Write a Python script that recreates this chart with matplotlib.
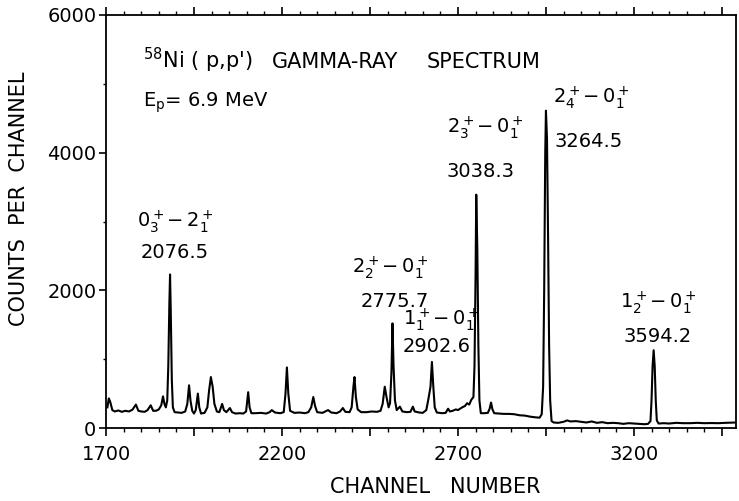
import numpy as np
import matplotlib
matplotlib.use('Agg')
import matplotlib.pyplot as plt
from matplotlib.ticker import FixedLocator, MultipleLocator

# spectrum trace (channel, counts)
channel = [1704, 1708, 1712, 1718, 1725, 1735, 1745, 1755, 1765, 1775,
           1785, 1792, 1800, 1810, 1818, 1827, 1834, 1842, 1850, 1857,
           1862, 1866, 1870, 1874, 1877, 1880, 1882, 1884, 1887, 1890,
           1895, 1905, 1915, 1925, 1931, 1936, 1940, 1945, 1950, 1955,
           1961, 1965, 1970, 1980, 1988, 1993, 1998, 2003, 2008, 2015,
           2022, 2030, 2035, 2042, 2052, 2058, 2068, 2080, 2090, 2098,
           2104, 2108, 2113, 2125, 2140, 2155, 2165, 2171, 2180, 2195,
           2205, 2210, 2214, 2218, 2223, 2235, 2250, 2265, 2275, 2283,
           2289, 2294, 2300, 2315, 2331, 2340, 2355, 2365, 2373, 2380,
           2392, 2398, 2403, 2406, 2410, 2415, 2425, 2440, 2455, 2470,
           2480, 2486, 2492, 2497, 2503, 2507, 2511, 2514, 2517, 2521,
           2526, 2535, 2542, 2555, 2565, 2572, 2577, 2590, 2600, 2610,
           2616, 2622, 2626, 2630, 2634, 2640, 2655, 2665, 2672, 2677,
           2685, 2694, 2700, 2712, 2720, 2726, 2732, 2738, 2744, 2747,
           2750, 2752, 2755, 2758, 2761, 2765, 2775, 2785, 2790, 2794,
           2798, 2803, 2815, 2830, 2845, 2860, 2875, 2890, 2905, 2920,
           2932, 2938, 2942, 2945, 2948, 2950, 2953, 2956, 2959, 2962,
           2966, 2972, 2985, 3000, 3010, 3020, 3035, 3050, 3065, 3080,
           3095, 3110, 3125, 3140, 3155, 3170, 3185, 3200, 3215, 3230,
           3240, 3247, 3250, 3253, 3256, 3259, 3262, 3265, 3270, 3285,
           3300, 3320, 3340, 3360, 3380, 3400, 3420, 3440, 3460, 3480,
           3490]
counts = [300, 430, 380, 260, 240, 255, 235, 250, 240, 265,
          340, 250, 240, 235, 260, 330, 250, 250, 270, 330,
          460, 350, 300, 400, 900, 1800, 2230, 1700, 700, 300,
          230, 225, 220, 240, 350, 620, 400, 250, 210, 260,
          500, 300, 210, 220, 300, 550, 740, 600, 350, 240,
          230, 350, 260, 230, 290, 230, 210, 215, 210, 240,
          520, 300, 215, 215, 220, 210, 230, 260, 225, 215,
          230, 500, 880, 500, 250, 220, 225, 215, 230, 300,
          450, 320, 230, 220, 260, 225, 215, 240, 290, 235,
          230, 300, 600, 740, 450, 270, 230, 230, 240, 235,
          250, 350, 600, 450, 300, 360, 800, 1520, 900, 400,
          260, 310, 240, 230, 235, 310, 240, 225, 220, 260,
          420, 600, 960, 600, 300, 225, 215, 220, 280, 240,
          250, 270, 260, 300, 320, 360, 340, 410, 450, 900,
          2200, 3390, 2600, 1200, 400, 215, 215, 220, 280, 370,
          270, 215, 210, 205, 205, 200, 185, 180, 165, 155,
          150, 200, 600, 2000, 4000, 4610, 4200, 2800, 1200, 400,
          100, 80, 75, 90, 110, 95, 100, 90, 80, 95,
          75, 85, 70, 75, 70, 60, 70, 65, 60, 55,
          60, 100, 400, 900, 1130, 900, 400, 110, 65, 70,
          65, 75, 70, 70, 75, 70, 72, 70, 75, 78,
          80]

x_major = [1700, 1950, 2200, 2450, 2700, 2950, 3200, 3450]
x_labels = ['1700', '', '2200', '', '2700', '', '3200', '']
y_major = [0, 2000, 4000, 6000]
y_labels = ['0', '2000', '4000', '6000']

# transition labels and gamma energies (keV)
transitions = ['$\\mathregular{0_3^+{-}\\,2_1^+}$', '$\\mathregular{2_2^+{-}\\,0_1^+}$',
               '$\\mathregular{1_1^+{-}\\,0_1^+}$', '$\\mathregular{2_3^+{-}\\,0_1^+}$',
               '$\\mathregular{2_4^+{-}\\,0_1^+}$', '$\\mathregular{1_2^+{-}\\,0_1^+}$']
energies = ['2076.5', '2775.7', '2902.6', '3038.3', '3264.5', '3594.2']

plt.rcParams['font.family'] = ['DejaVu Sans']
plt.rcParams['mathtext.fontset'] = 'dejavusans'

fig = plt.figure(figsize=(7.39, 5.01), dpi=100)
ax = fig.add_axes([106 / 739, 1 - 428 / 501, 630 / 739, 413 / 501])

ax.plot(channel, counts, color='black', lw=1.5)

ax.set_xlim(1700, 3490)
ax.set_ylim(0, 6000)

ax.xaxis.set_major_locator(FixedLocator(x_major))
ax.set_xticklabels(x_labels)
ax.xaxis.set_minor_locator(MultipleLocator(50))
ax.yaxis.set_major_locator(FixedLocator(y_major))
ax.set_yticklabels(y_labels)
ax.yaxis.set_minor_locator(MultipleLocator(1000))

ax.tick_params(axis='x', which='major', direction='out', length=6, width=1.2,
               top=True, labelsize=14, pad=6)
ax.tick_params(axis='x', which='minor', direction='out', length=3, width=1,
               top=True)
ax.tick_params(axis='y', which='major', direction='out', length=5, width=1.2,
               labelsize=14, pad=2)
ax.tick_params(axis='y', which='minor', direction='out', length=2, width=1)
for s in ax.spines.values():
    s.set_linewidth(1.3)

ax.set_xlabel('CHANNEL   NUMBER', fontsize=15)
ax.xaxis.set_label_coords((435 - 106) / 630, (428 - 477) / 413)
ax.set_ylabel('COUNTS  PER  CHANNEL', fontsize=15)
ax.yaxis.set_label_coords((29 - 106) / 630, (428 - 199) / 413)

# title split in three pieces to follow the wide spacing of the original
ax.text(1805, 5233, "$^{58}$Ni ( p,p')", fontsize=15, va='baseline', ha='left')
ax.text(2172, 5233, "GAMMA-RAY", fontsize=15, va='baseline', ha='left')
ax.text(2612, 5233, "SPECTRUM", fontsize=15, va='baseline', ha='left')
ax.text(1805, 4666, 'E$_\\mathregular{p}$= 6.9 MeV', fontsize=14,
        va='baseline', ha='left')

# label positions (x, y of transition text; x, y of energy text)
label_pos = [(1896, 2921, 1896, 2471), (2507, 2253, 2521, 1759),
             (2652, 1497, 2638, 1105), (2777, 4288, 2765, 3648),
             (3078, 4724, 3072, 4084), (3268, 1744, 3267, 1250)]
for t, e, (tx, ty, ex, ey) in zip(transitions, energies, label_pos):
    ax.text(tx, ty, t, fontsize=14, ha='center', va='baseline')
    ax.text(ex, ey, e, fontsize=14, ha='center', va='baseline')

fig.savefig('out.png', dpi=100)
